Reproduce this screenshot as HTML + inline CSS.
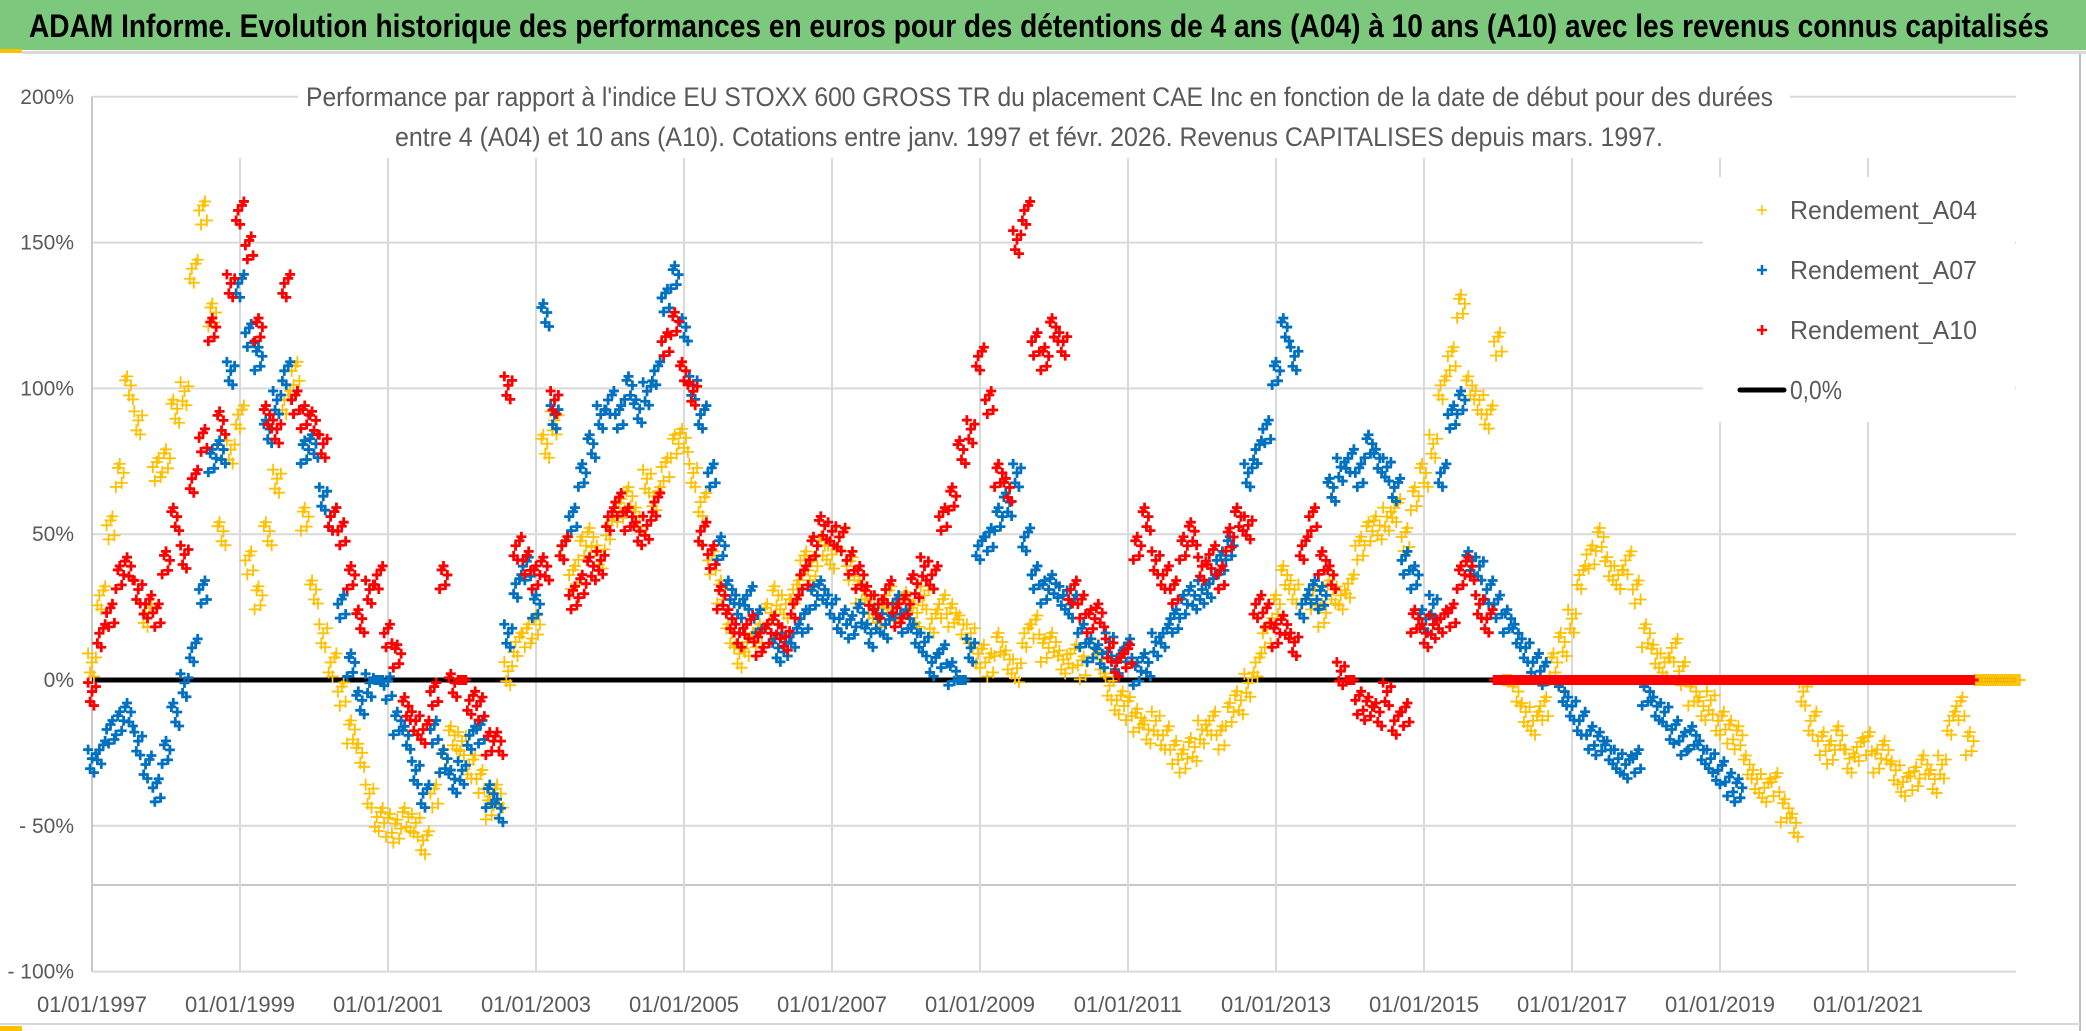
<!DOCTYPE html>
<html><head><meta charset="utf-8"><style>
html,body{margin:0;padding:0;background:#fff;}
svg{display:block;font-family:"Liberation Sans Narrow","Liberation Sans",sans-serif;}
</style></head><body>
<svg id="chart" width="2086" height="1031" viewBox="0 0 2086 1031" xmlns="http://www.w3.org/2000/svg">
<rect x="0" y="0" width="2086" height="1031" fill="#fff"/>
<rect x="0" y="0" width="2086" height="50" fill="#7cc87c"/>
<rect x="0" y="49" width="22" height="4" fill="#ffc000"/>
<rect x="22" y="51" width="2064" height="3" fill="#d9d9d9"/>
<text x="29" y="37" font-size="32" font-weight="bold" fill="#000" textLength="2020" lengthAdjust="spacingAndGlyphs">ADAM Informe. Evolution historique des performances en euros pour des détentions de 4 ans (A04) à 10 ans (A10) avec les revenus connus capitalisés</text>
<line x1="2080" y1="54" x2="2080" y2="1031" stroke="#bfbfbf" stroke-width="2"/>
<line x1="0" y1="1024" x2="2080" y2="1024" stroke="#d9d9d9" stroke-width="2"/>
<rect x="0" y="1026" width="22" height="5" fill="#ffc000"/>
<g id="grid"></g>
<g id="axes"></g>
<g id="series"></g>
<rect x="298" y="70" width="1492" height="88" fill="#fff"/>
<text x="306" y="106" font-size="27" fill="#595959" textLength="1467" lengthAdjust="spacingAndGlyphs">Performance par rapport à l'indice EU STOXX 600 GROSS TR  du placement CAE Inc en fonction de la date de début pour des durées</text>
<text x="395" y="146" font-size="27" fill="#595959" textLength="1268" lengthAdjust="spacingAndGlyphs">entre 4 (A04) et 10 ans (A10). Cotations entre janv. 1997 et févr. 2026. Revenus CAPITALISES depuis mars. 1997.</text>
<g>
<rect x="1703" y="177" width="312" height="245" fill="#fff"/>
<g>
<path d="M1757 210h10M1762 205v10" stroke="#ffc000" stroke-width="1.5"/>
<text x="1790" y="219" font-size="26" fill="#595959" textLength="187" lengthAdjust="spacingAndGlyphs">Rendement_A04</text></g>
<g>
<path d="M1757 270h10M1762 265v10" stroke="#0070c0" stroke-width="2.5"/>
<text x="1790" y="279" font-size="26" fill="#595959" textLength="187" lengthAdjust="spacingAndGlyphs">Rendement_A07</text></g>
<g>
<path d="M1757 330h10M1762 325v10" stroke="#ff0000" stroke-width="2.5"/>
<text x="1790" y="339" font-size="26" fill="#595959" textLength="187" lengthAdjust="spacingAndGlyphs">Rendement_A10</text></g>
<g>
<line x1="1740" y1="390" x2="1784" y2="390" stroke="#000" stroke-width="5" stroke-linecap="round"/>
<text x="1790" y="399" font-size="26" fill="#595959" textLength="52" lengthAdjust="spacingAndGlyphs">0,0%</text></g>
</g>
</svg>
<script>
const NS = "http://www.w3.org/2000/svg";
const yTicks = [200, 150, 100, 50, 0, -50, -100];
const yTickLabels = ["200%", "150%", "100%", "50%", "0%", "- 50%", "- 100%"];
const xTicks = [1997, 1999, 2001, 2003, 2005, 2007, 2009, 2011, 2013, 2015, 2017, 2019, 2021];
const xTickLabels = ["01/01/1997","01/01/1999","01/01/2001","01/01/2003","01/01/2005","01/01/2007","01/01/2009","01/01/2011","01/01/2013","01/01/2015","01/01/2017","01/01/2019","01/01/2021"];
const seriesStart = 1997;
const seriesStep = 0.125;
const a04Values = [
5,28,52,70,100,88,22,72,
75,92,98,140,160,125,50,78,
90,40,28,50,68,95,105,55,
30,15,5,-5,-18,-26,-40,-48,
-50,-52,-48,-50,-56,-40,-28,-20,
-22,-30,-35,-44,-40,2,12,15,
18,80,88,45,35,45,48,42,
52,58,62,55,68,62,72,80,
82,70,60,40,30,15,8,12,
15,22,28,25,30,40,38,45,
42,48,38,30,25,22,28,24,
26,22,28,20,25,22,18,15,
8,5,12,6,3,15,18,10,
12,6,8,4,10,6,-3,-8,
-10,-14,-18,-15,-20,-25,-28,-24,
-18,-15,-20,-12,-8,-2,5,15,
25,35,30,25,28,22,30,28,
32,45,50,52,55,58,48,62,
70,80,100,110,128,100,95,90,
115,0,-5,-12,-15,-10,5,12,
20,35,42,48,38,35,40,30,
15,8,5,10,2,-5,-10,-8,
-15,-18,-20,-30,-35,-38,-36,-45,
-50,-5,-15,-22,-25,-20,-28,-24,
-22,-28,-25,-32,-36,-34,-30,-35,
-30,-15,-10,-22,0,0,0,0,
0];
const a07Values = [
-28,-25,-18,-15,-12,-22,-30,-38,
-25,-12,-2,10,30,75,78,105,
135,118,110,85,95,105,95,78,
80,62,55,25,5,-8,-2,0,
-3,-15,-20,-32,-40,-18,-28,-35,
-32,-20,-18,-40,-45,15,32,38,
25,125,90,45,55,70,80,90,
95,90,100,92,98,105,130,138,
120,100,90,70,45,30,25,28,
20,15,10,12,15,20,28,30,
25,20,18,22,15,20,18,25,
20,15,12,5,8,2,0,10,
45,48,55,60,70,48,35,30,
32,28,25,15,10,8,12,6,
10,2,5,12,15,20,25,28,
30,32,40,45,55,70,78,85,
105,120,110,25,30,28,65,72,
75,70,80,75,72,65,40,35,
20,25,70,90,95,40,38,30,
25,20,15,10,5,2,0,-5,
-10,-15,-20,-22,-25,-28,-30,-28,
-5,-10,-12,-18,-22,-20,-25,-28,
-32,-36,-38];
const a10Values = [
-5,15,22,35,38,30,25,22,
40,55,42,68,82,120,88,135,
160,148,120,90,85,135,95,90,
88,80,55,50,35,20,30,35,
15,8,-10,-15,-18,-5,35,-2,
0,-8,-10,-22,-22,100,45,40,
35,38,95,45,28,32,38,40,
55,60,55,50,52,60,115,122,
105,98,50,42,28,20,15,18,
12,15,18,14,25,35,45,52,
50,48,40,35,28,25,30,22,
25,32,38,35,55,62,78,85,
110,95,70,65,150,160,115,110,
120,115,30,25,20,22,10,5,
8,45,55,40,35,30,45,50,
38,42,35,48,55,52,25,22,
15,18,12,45,55,40,35,2,
0,-8,-10,-12,-5,-15,-12,20,
15,18,20,22,35,38,25,20,
0,0,0,0,0,0,0,0,
0,0,0,0,0,0,0,0,
0,0,0,0,0,0,0,0,
0,0,0,0,0,0,0,0,
0,0,0,0,0,0,0,0,
0,0,0,0,0,0,0,0,
0,0,0,0];

const X0 = 92, PX_YEAR = 74, Y0 = 680, PX_PCT = 2.916, XMAX = 2016;
function xScale(yr){ return X0 + (yr - 1997) * PX_YEAR; }
function yScale(v){ return Y0 - v * PX_PCT; }

const grid = document.getElementById('grid');
const axes = document.getElementById('axes');
const seriesG = document.getElementById('series');

yTicks.forEach((t, i) => {
  const l = document.createElementNS(NS, 'line');
  
  
  l.setAttribute('x1', X0); l.setAttribute('x2', XMAX);
  l.setAttribute('y1', yScale(t)); l.setAttribute('y2', yScale(t));
  l.setAttribute('stroke', '#d9d9d9'); l.setAttribute('stroke-width', '2');
  grid.appendChild(l);
  const tx = document.createElementNS(NS, 'text');
  
  
  tx.setAttribute('x', 74); tx.setAttribute('y', yScale(t) + 7);
  tx.setAttribute('text-anchor', 'end'); tx.setAttribute('font-size', '21');
  tx.setAttribute('fill', '#595959');
  tx.textContent = yTickLabels[i];
  axes.appendChild(tx);
});
const extra = document.createElementNS(NS, 'line');


extra.setAttribute('x1', X0); extra.setAttribute('x2', XMAX);
extra.setAttribute('y1', 885); extra.setAttribute('y2', 885);
extra.setAttribute('stroke', '#c8c8c8'); extra.setAttribute('stroke-width', '2');
grid.appendChild(extra);

xTicks.forEach((t, i) => {
  const x = xScale(t);
  const l = document.createElementNS(NS, 'line');
  
  
  l.setAttribute('x1', x); l.setAttribute('x2', x);
  l.setAttribute('y1', i === 0 ? yScale(200) : 158); l.setAttribute('y2', yScale(-100));
  l.setAttribute('stroke', i === 0 ? '#c8c8c8' : '#d9d9d9'); l.setAttribute('stroke-width', '2');
  grid.appendChild(l);
  const tx = document.createElementNS(NS, 'text');
  
  
  tx.setAttribute('x', x); tx.setAttribute('y', 1012);
  tx.setAttribute('text-anchor', 'middle'); tx.setAttribute('font-size', '22');
  tx.setAttribute('fill', '#595959');
  tx.textContent = xTickLabels[i];
  axes.appendChild(tx);
});

const zero = document.createElementNS(NS, 'line');


zero.setAttribute('x1', X0); zero.setAttribute('x2', XMAX);
zero.setAttribute('y1', yScale(0)); zero.setAttribute('y2', yScale(0));
zero.setAttribute('stroke', '#000'); zero.setAttribute('stroke-width', '5');
seriesG.appendChild(zero);

// visual cloud: each value rendered as a small cluster of markers (styling only)
const CLUSTER_DX = [-0.42, -0.21, 0, 0.21, 0.42];
const CLUSTER_DY = [-12, 7, -3, 11, -8];
function drawSeries(values, color, width, arm, name){
  const g = document.createElementNS(NS, 'g');
  
  
  const stepPx = seriesStep * PX_YEAR;
  let d = '';
  values.forEach((v, i) => {
    const xc = xScale(seriesStart + i * seriesStep), yc = yScale(v);
    const flat = v === 0;
    CLUSTER_DX.forEach((dx, k) => {
      const x = xc + dx * stepPx;
      const y = yc + (flat ? 0 : CLUSTER_DY[(k + i) % CLUSTER_DY.length]);
      d += 'M' + (x - arm) + ' ' + y + 'h' + (2 * arm) + 'M' + x + ' ' + (y - arm) + 'v' + (2 * arm);
    });
  });
  const p = document.createElementNS(NS, 'path');
  
  
  p.setAttribute('d', d);
  p.setAttribute('stroke', color); p.setAttribute('stroke-width', width);
  p.setAttribute('fill', 'none');
  g.appendChild(p);
  seriesG.appendChild(g);
}
drawSeries(a04Values, '#ffc000', 1.8, 6, 'series-a04');
drawSeries(a07Values, '#0070c0', 2.8, 5, 'series-a07');
drawSeries(a10Values, '#ff0000', 2.8, 5, 'series-a10');
</script>
</body></html>
